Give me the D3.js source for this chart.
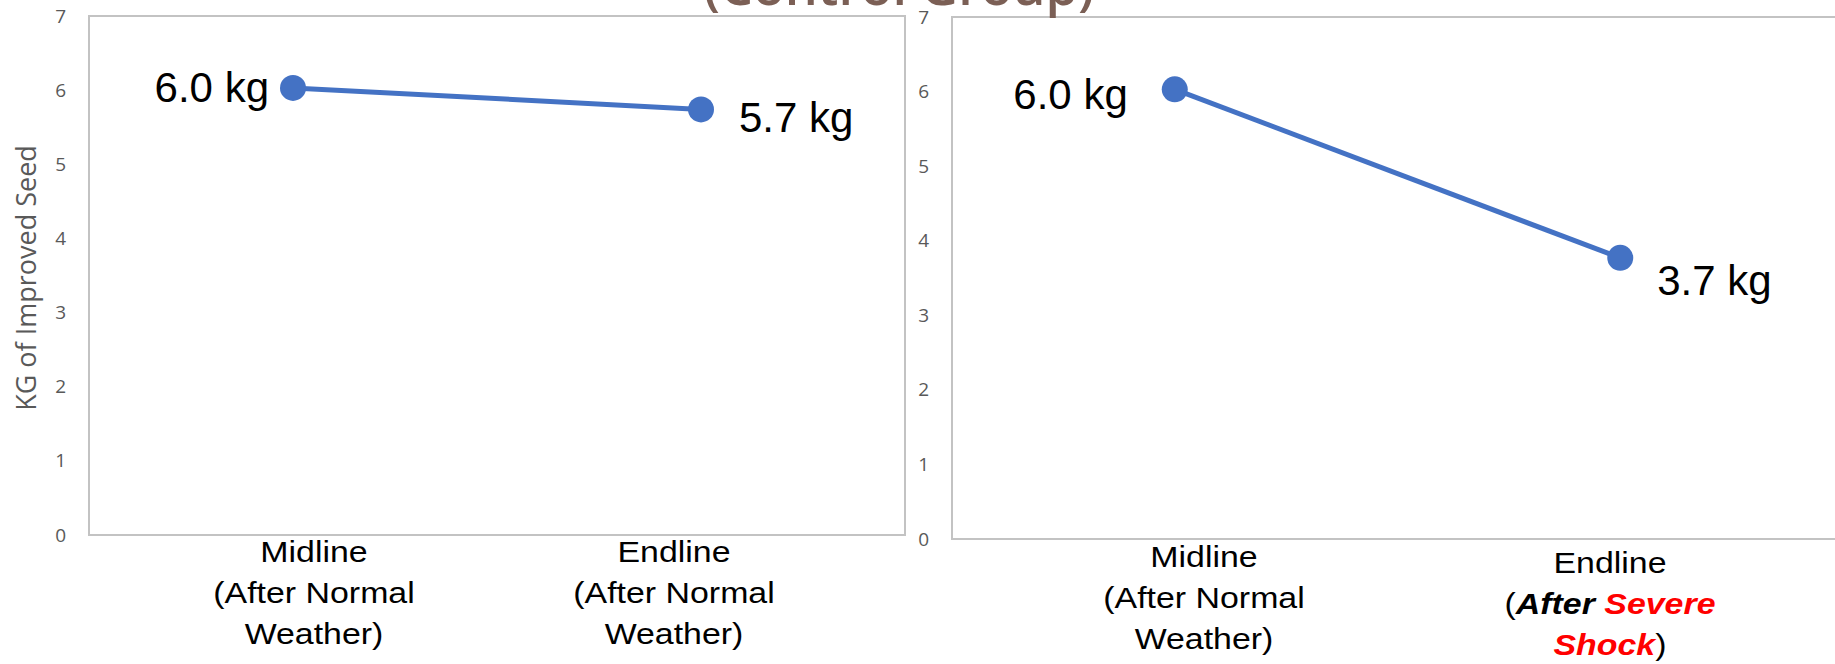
<!DOCTYPE html>
<html>
<head>
<meta charset="utf-8">
<script src="https://cdn.jsdelivr.net/npm/d3@7"></script>
<style>
  body { margin: 0; background: #fff; overflow: hidden; }
  svg { display: block; }
</style>
</head>
<body>
<div id="chart"></div>
<script>
// data
var categories = ["Midline", "Endline"];
var normalValues = [6.03, 5.74];
var shockValues = [6.03, 3.77];
var normalLabels = ["6.0 kg", "5.7 kg"];
var shockLabels = ["6.0 kg", "3.7 kg"];
var yTicks = [0, 1, 2, 3, 4, 5, 6, 7];
var yTitle = "KG of Improved Seed";
var chartTitle = "(Control Group)";

// category label lines, each line is a list of [text, kind]
var normalCatLines = [
    [[["Midline", "plain"]], [["(After Normal", "plain"]], [["Weather)", "plain"]]],
    [[["Endline", "plain"]], [["(After Normal", "plain"]], [["Weather)", "plain"]]]
];
var shockCatLines = [
    [[["Midline", "plain"]], [["(After Normal", "plain"]], [["Weather)", "plain"]]],
    [[["Endline", "plain"]],
     [["(", "plain"], ["After ", "em"], ["Severe", "shock"]],
     [["Shock", "shock"], [")", "plain"]]]
];

var W = 1835, H = 664;
var svg = d3.select("#chart").append("svg")
    .attr("width", W)
    .attr("height", H);

var blue = "#4472C4";

// panel layout (positions only)
var panels = [
    { values: normalValues, labels: normalLabels, cats: normalCatLines,
      x0: 89, x1: 905, y0: 16, y1: 535, tickX: 66,
      catRange: [134, 854], catY: 562, catDy: [0, 0],
      off: [[-24, 14, "end"], [38, 23, "start"]] },
    { values: shockValues, labels: shockLabels, cats: shockCatLines,
      x0: 952, x1: 1843, y0: 17, y1: 539, tickX: 929,
      catRange: [1001, 1813], catY: 567, catDy: [0, 6],
      off: [[-47, 20, "end"], [37, 37, "start"]] }
];

panels.forEach(function(p) {
    var g = svg.append("g");

    var x = d3.scalePoint()
        .domain(categories)
        .range([p.x0, p.x1])
        .padding(0.5);

    var y = d3.scaleLinear()
        .domain([0, 7])
        .range([p.y1, p.y0]);

    // plot frame
    g.append("rect")
        .attr("x", p.x0)
        .attr("y", p.y0)
        .attr("width", p.x1 - p.x0)
        .attr("height", p.y1 - p.y0)
        .attr("fill", "none")
        .attr("stroke", "#c3c3c3")
        .attr("stroke-width", 2);

    // y axis tick labels
    var yAxis = g.append("g")
        .attr("transform", "translate(" + p.tickX + ",0)")
        .call(d3.axisLeft(y).tickValues(yTicks).tickSize(0).tickPadding(0).tickFormat(d3.format("d")));
    yAxis.select(".domain").remove();
    yAxis.selectAll("text")
        .attr("fill", "#595959")
        .style("font-family", "'Open Sans', sans-serif")
        .style("font-size", "19px");

    // line
    var line = d3.line()
        .x(function(d, i) { return x(categories[i]); })
        .y(function(d) { return y(d); });

    g.append("path")
        .datum(p.values)
        .attr("d", line)
        .attr("fill", "none")
        .attr("stroke", blue)
        .attr("stroke-width", 5);

    g.selectAll(".dot")
        .data(p.values)
        .enter().append("circle")
        .attr("cx", function(d, i) { return x(categories[i]); })
        .attr("cy", function(d) { return y(d); })
        .attr("r", 13)
        .attr("fill", blue);

    // value labels
    g.selectAll(".vlabel")
        .data(p.values)
        .enter().append("text")
        .attr("x", function(d, i) { return x(categories[i]) + p.off[i][0]; })
        .attr("y", function(d, i) { return y(d) + p.off[i][1]; })
        .attr("text-anchor", function(d, i) { return p.off[i][2]; })
        .style("font-family", "'Liberation Sans', Arial, sans-serif")
        .style("font-size", "42px")
        .attr("fill", "#000")
        .text(function(d, i) { return p.labels[i]; });

    // category labels
    var cx = d3.scalePoint()
        .domain(categories)
        .range(p.catRange)
        .padding(0.5);

    categories.forEach(function(c, ci) {
        var t = g.append("text")
            .attr("transform", "translate(" + cx(c) + "," + (p.catY + p.catDy[ci]) + ") scale(1.13,1)")
            .attr("text-anchor", "middle")
            .style("font-family", "'Liberation Sans', Arial, sans-serif")
            .style("font-size", "30px");

        p.cats[ci].forEach(function(lineSegs, li) {
            lineSegs.forEach(function(seg, si) {
                var ts = t.append("tspan").text(seg[0]);
                if (si === 0) ts.attr("x", 0).attr("dy", li === 0 ? 0 : 41);
                if (seg[1] === "em" || seg[1] === "shock") {
                    ts.style("font-weight", "bold").style("font-style", "italic");
                }
                ts.attr("fill", seg[1] === "shock" ? "#ff0000" : "#000");
            });
        });
    });
});

// y axis title (left panel only)
svg.append("text")
    .attr("transform", "translate(36,278) rotate(-90)")
    .attr("text-anchor", "middle")
    .attr("fill", "#595959")
    .style("font-family", "'Open Sans', sans-serif")
    .style("font-size", "27px")
    .text(yTitle);

// title, mostly clipped at the top edge
svg.append("text")
    .attr("x", 899)
    .attr("y", 5)
    .attr("text-anchor", "middle")
    .attr("fill", "#7b5f55")
    .style("font-family", "'Open Sans', sans-serif")
    .style("font-weight", "600")
    .style("font-size", "52px")
    .text(chartTitle);
</script>
</body>
</html>
